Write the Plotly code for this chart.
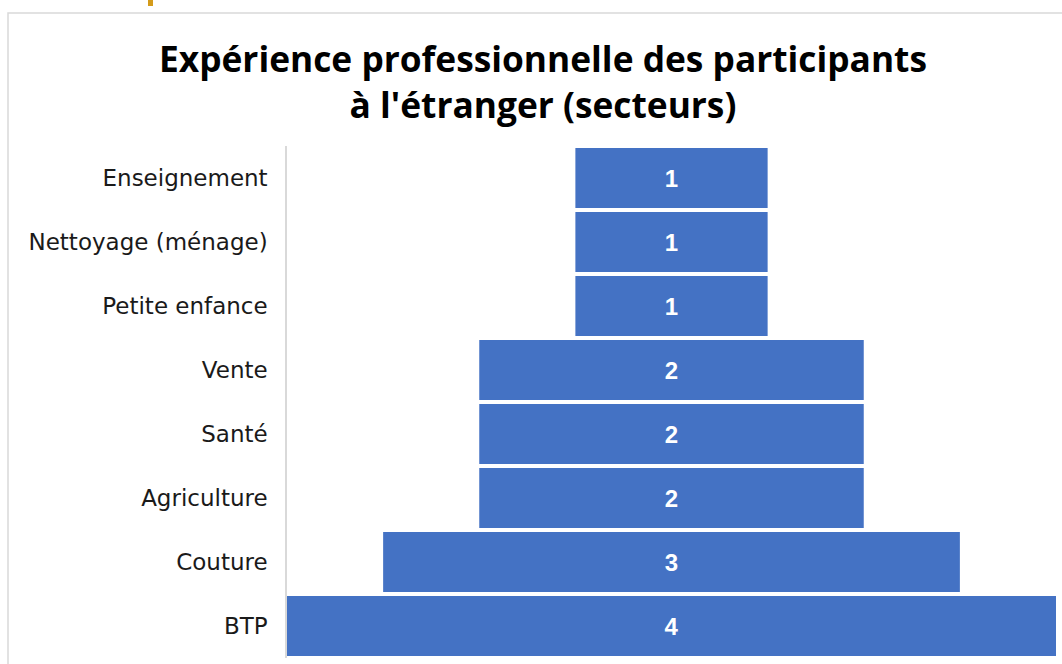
import plotly.graph_objects as go

categories = ["Enseignement", "Nettoyage (ménage)", "Petite enfance", "Vente",
              "Santé", "Agriculture", "Couture", "BTP"]
values = [1, 1, 1, 2, 2, 2, 3, 4]
title_text = "Expérience professionnelle des participants<br>à l'étranger (secteurs)"

W, H = 1062, 664
L, R, T, B = 287, 6, 146, 6
pw, ph = W - L - R, H - T - B

def px(x):
    return (x - L) / pw

def py(y):
    return (H - B - y) / ph

fig = go.Figure(go.Funnel(
    y=categories,
    x=values,
    textinfo="value",
    textposition="inside",
    insidetextanchor="middle",
    textfont=dict(family="Liberation Sans Narrow, Liberation Sans", size=24,
                  color="white", weight="bold"),
    marker=dict(color="#4472C4", line=dict(width=0)),
    connector=dict(visible=False),
))

fig.update_layout(
    width=W, height=H,
    margin=dict(l=L, r=R, t=T, b=B),
    paper_bgcolor="white", plot_bgcolor="white",
    showlegend=False,
    funnelgap=0.06,
    title=dict(text=title_text, x=px(543), xref="paper", xanchor="center",
               y=1 - 72 / H, yref="container", yanchor="middle",
               font=dict(family="Open Sans", size=35.3, color="black", weight="bold")),
    xaxis=dict(visible=False, range=[-2, 2]),
    yaxis=dict(showline=True, linecolor="#d9d9d9", linewidth=1.5,
               showgrid=False, ticks="", ticklabelstandoff=13,
               tickfont=dict(family="DejaVu Sans", size=23, color="#1a1a1a")),
    shapes=[
        dict(type="rect", xref="paper", yref="paper",
             x0=px(8), x1=px(1070), y0=py(680), y1=py(13),
             line=dict(color="#d9d9d9", width=1.5), fillcolor="rgba(0,0,0,0)", layer="below"),
        dict(type="rect", xref="paper", yref="paper",
             x0=px(148), x1=px(153), y0=py(6), y1=py(-2),
             line=dict(width=0), fillcolor="#D49B1A"),
    ],
)

fig.write_html("out.html", config={"displayModeBar": False},
               post_script="document.body.style.margin='0';")
